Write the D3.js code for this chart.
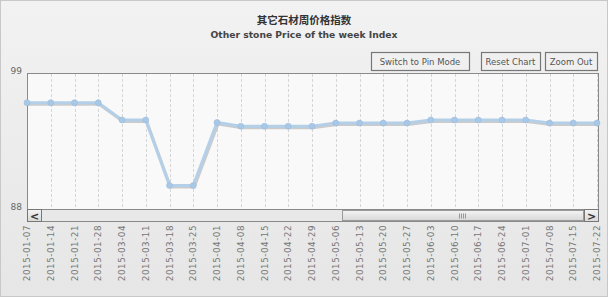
<!DOCTYPE html>
<html>
<head>
<meta charset="utf-8">
<script src="https://cdn.jsdelivr.net/npm/d3@7"></script>
<style>
  body { margin: 0; background: #fff; }
  svg text { font-family: "DejaVu Sans", Verdana, sans-serif; }
</style>
</head>
<body>
<div id="chart"></div>
<script>
const width = 608;
const height = 297;

const dates = ["2015-01-07", "2015-01-14", "2015-01-21", "2015-01-28", "2015-03-04", "2015-03-11",
  "2015-03-18", "2015-03-25", "2015-04-01", "2015-04-08", "2015-04-15", "2015-04-22", "2015-04-29",
  "2015-05-06", "2015-05-13", "2015-05-20", "2015-05-27", "2015-06-03", "2015-06-10", "2015-06-17",
  "2015-06-24", "2015-07-01", "2015-07-08", "2015-07-15", "2015-07-22"];
const values = [96.6, 96.6, 96.6, 96.6, 95.2, 95.2, 89.9, 89.9, 95.0, 94.7, 94.7, 94.7, 94.7,
  94.95, 94.95, 94.95, 94.95, 95.2, 95.2, 95.2, 95.2, 95.2, 94.95, 94.95, 94.95];
const yTicks = [88, 99];
const buttons = ["Switch to Pin Mode", "Reset Chart", "Zoom Out"];

const plot = { left: 27, right: 598, top: 73, bottom: 209 };

const svg = d3.select("#chart")
    .append("svg")
    .attr("width", width)
    .attr("height", height);

const defs = svg.append("defs");
const bg = defs.append("linearGradient").attr("id", "bg").attr("x1", 0).attr("y1", 0).attr("x2", 0).attr("y2", 1);
bg.append("stop").attr("offset", "0%").attr("stop-color", "#f2f2f2");
bg.append("stop").attr("offset", "100%").attr("stop-color", "#e6e6e6");
const sb = defs.append("linearGradient").attr("id", "sb").attr("x1", 0).attr("y1", 0).attr("x2", 0).attr("y2", 1);
sb.append("stop").attr("offset", "0%").attr("stop-color", "#f4f4f4");
sb.append("stop").attr("offset", "100%").attr("stop-color", "#d8d8d8");

// chart background
svg.append("rect")
    .attr("x", 0.5).attr("y", 0.5)
    .attr("width", width - 1).attr("height", height - 1)
    .attr("fill", "url(#bg)")
    .attr("stroke", "#c8c8c8");

// titles
svg.append("text")
    .attr("x", width / 2).attr("y", 24)
    .attr("text-anchor", "middle")
    .attr("font-size", 10.5).attr("font-weight", "bold")
    .attr("fill", "#333")
    .style("font-family", "'Noto Sans CJK SC', sans-serif")
    .text("其它石材周价格指数");

svg.append("text")
    .attr("x", width / 2).attr("y", 38)
    .attr("text-anchor", "middle")
    .attr("font-size", 9.2).attr("font-weight", "bold")
    .attr("fill", "#444")
    .text("Other stone Price of the week Index");

// buttons
const btnBoxes = [[371, 469], [481, 540], [545, 597]];
const btn = svg.append("g").selectAll("g")
    .data(buttons)
    .enter()
    .append("g");
btn.append("rect")
    .attr("x", (d, i) => btnBoxes[i][0] + 0.5)
    .attr("y", 52.5)
    .attr("width", (d, i) => btnBoxes[i][1] - btnBoxes[i][0])
    .attr("height", 18)
    .attr("fill", "#f0f0f0")
    .attr("stroke", "#777")
    .attr("stroke-width", 1.2);
btn.append("text")
    .attr("x", (d, i) => (btnBoxes[i][0] + btnBoxes[i][1]) / 2)
    .attr("y", 65)
    .attr("text-anchor", "middle")
    .attr("font-size", 8.5)
    .attr("fill", "#555")
    .text(d => d);

const x = d3.scalePoint()
    .domain(dates)
    .range([plot.left, plot.right - 1]);

const y = d3.scaleLinear()
    .domain([88, 99])
    .range([plot.bottom, plot.top]);

// plot area
svg.append("rect")
    .attr("x", plot.left + 0.5).attr("y", plot.top + 0.5)
    .attr("width", plot.right - plot.left).attr("height", plot.bottom - plot.top)
    .attr("fill", "#f9f9f9")
    .attr("stroke", "#8a8a8a");

// vertical dashed grid
svg.append("g")
    .selectAll("line")
    .data(dates.slice(1))
    .enter()
    .append("line")
    .attr("x1", d => Math.round(x(d)) + 0.5)
    .attr("x2", d => Math.round(x(d)) + 0.5)
    .attr("y1", plot.top + 1)
    .attr("y2", plot.bottom)
    .attr("stroke", "#d6d6d6")
    .attr("stroke-dasharray", "3,2");

// y labels
svg.append("g")
    .selectAll("text")
    .data(yTicks)
    .enter()
    .append("text")
    .attr("x", 22)
    .attr("y", d => y(d) + 1)
    .attr("text-anchor", "end")
    .attr("font-size", 9)
    .attr("fill", "#666")
    .text(d => d);

// line with shadow
const line = d3.line()
    .x((d, i) => x(dates[i]))
    .y(d => y(d));

svg.append("path")
    .datum(values)
    .attr("d", line)
    .attr("transform", "translate(1,1.5)")
    .attr("fill", "none")
    .attr("stroke", "#b8b8b8")
    .attr("stroke-width", 3)
    .attr("opacity", 0.7);

svg.append("path")
    .datum(values)
    .attr("d", line)
    .attr("fill", "none")
    .attr("stroke", "#b4cfe8")
    .attr("stroke-width", 3);

svg.append("g")
    .selectAll("circle")
    .data(values)
    .enter()
    .append("circle")
    .attr("cx", (d, i) => x(dates[i]))
    .attr("cy", d => y(d))
    .attr("r", 3)
    .attr("fill", "#a8c8e8")
    .attr("stroke", "#98b8d8")
    .attr("stroke-width", 0.5);

// scrollbar
const sbY = plot.bottom + 0.5;
svg.append("rect")
    .attr("x", plot.left + 0.5).attr("y", sbY)
    .attr("width", plot.right - plot.left).attr("height", 12)
    .attr("fill", "#e8e8e8")
    .attr("stroke", "#8a8a8a");
svg.append("rect")
    .attr("x", 342.5).attr("y", sbY + 1)
    .attr("width", 241).attr("height", 10)
    .attr("fill", "url(#sb)")
    .attr("stroke", "#999");
svg.append("g")
    .selectAll("line")
    .data(d3.range(4))
    .enter()
    .append("line")
    .attr("x1", i => 459.5 + i * 2)
    .attr("x2", i => 459.5 + i * 2)
    .attr("y1", sbY + 4)
    .attr("y2", sbY + 9)
    .attr("stroke", "#999");
[[plot.left, "<"], [plot.right - 14, ">"]].forEach(([bx, s]) => {
  svg.append("rect")
      .attr("x", bx + 0.5).attr("y", sbY)
      .attr("width", 14).attr("height", 12)
      .attr("fill", "url(#sb)")
      .attr("stroke", "#777");
  svg.append("text")
      .attr("x", bx + 7.5).attr("y", sbY + 10)
      .attr("text-anchor", "middle")
      .attr("font-size", 11).attr("font-weight", "bold")
      .attr("fill", "#333")
      .text(s);
});

// x labels
svg.append("g")
    .selectAll("text")
    .data(dates)
    .enter()
    .append("text")
    .attr("transform", d => `translate(${x(d) + 3}, 225) rotate(-90)`)
    .attr("text-anchor", "end")
    .attr("font-size", 8.8)
    .attr("letter-spacing", 0.5)
    .attr("fill", "#777")
    .text(d => d);
</script>
</body>
</html>
